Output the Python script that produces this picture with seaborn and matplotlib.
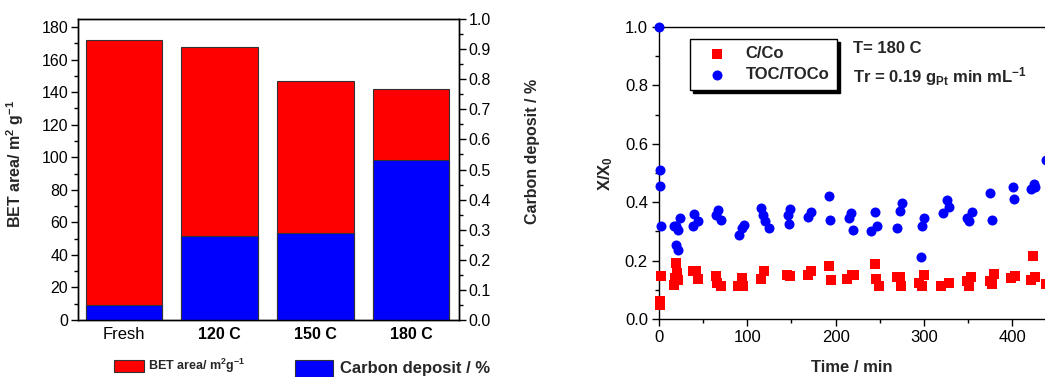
import numpy as np
import pandas as pd
import seaborn as sns
import matplotlib
matplotlib.use("Agg")
import matplotlib.pyplot as plt
from matplotlib.patches import Rectangle
from matplotlib.ticker import MultipleLocator

# ---------------- data ----------------
categories = ["Fresh", "120 C", "150 C", "180 C"]
bet_area = [172, 168, 147, 142]
carbon_deposit = [0.05, 0.28, 0.29, 0.53]

toc_time = [0, 1, 1, 2, 17, 19, 21, 24, 19, 21, 38, 40, 44, 65, 67, 70,
            90.5, 93.5, 96, 116, 118, 120, 125, 146, 147, 148, 169, 172,
            192, 194, 215, 217, 220, 240.5, 244, 247, 269, 273, 275,
            297, 298, 300, 321, 326.5, 328, 349, 351, 354, 374.6, 376.5,
            401, 402, 421, 424, 426, 438]
toc_ratio = [1.0, 0.51, 0.455, 0.32, 0.32, 0.32, 0.305, 0.346, 0.254, 0.235,
             0.32, 0.36, 0.337, 0.356, 0.374, 0.34,
             0.288, 0.311, 0.322, 0.379, 0.356, 0.334, 0.311, 0.356, 0.326, 0.376,
             0.351, 0.368, 0.421, 0.339, 0.345, 0.364, 0.305, 0.303, 0.368, 0.317,
             0.313, 0.371, 0.396, 0.214, 0.319, 0.345, 0.362, 0.408, 0.383,
             0.345, 0.334, 0.368, 0.43, 0.339, 0.451, 0.412, 0.444, 0.462, 0.453,
             0.544]

c_time = [1, 1, 2, 17, 19, 20, 21.6, 18, 39, 42.4, 44, 64, 66, 70, 90, 93.5, 95,
          116, 119, 145, 148.5, 169, 172, 192, 195, 213, 218, 220.5, 244, 246, 249,
          269, 273, 274, 294, 300, 298, 319, 328, 349, 353, 351, 375, 379, 376.5,
          399, 403, 423, 421, 426, 438]
c_ratio = [0.049, 0.06, 0.146, 0.117, 0.191, 0.157, 0.134, 0.14, 0.163, 0.163, 0.137,
           0.146, 0.125, 0.114, 0.114, 0.14, 0.114, 0.137, 0.163, 0.151, 0.146,
           0.151, 0.163, 0.18, 0.134, 0.137, 0.151, 0.151, 0.189, 0.137, 0.114,
           0.144, 0.144, 0.114, 0.125, 0.151, 0.114, 0.114, 0.123, 0.129, 0.144,
           0.112, 0.129, 0.155, 0.121, 0.14, 0.146, 0.216, 0.134, 0.144, 0.121]

# ---------------- style ----------------
sns.set_style("ticks")
plt.rcParams["font.family"] = ["Liberation Sans", "DejaVu Sans"]
plt.rcParams["mathtext.fontset"] = "custom"
plt.rcParams["mathtext.rm"] = "Liberation Sans:bold"
plt.rcParams["mathtext.it"] = "Liberation Sans:bold"
plt.rcParams["mathtext.bf"] = "Liberation Sans:bold"
plt.rcParams["axes.linewidth"] = 1.0
plt.rcParams["xtick.color"] = "black"
plt.rcParams["ytick.color"] = "black"
plt.rcParams["axes.edgecolor"] = "black"

W, H = 1045, 377
fig = plt.figure(figsize=(W / 100, H / 100), dpi=100)

# ---------------- left chart ----------------
axL = fig.add_axes([78 / W, 1 - 320 / H, (459 - 78) / W, (320 - 19) / H])
df_bar = pd.DataFrame({"cat": categories, "bet": bet_area, "carbon": carbon_deposit})
sns.barplot(data=df_bar, x="cat", y="bet", color="#ff0000", saturation=1,
            width=0.8, edgecolor="#333333", linewidth=0.8, ax=axL)
axR = axL.twinx()
sns.barplot(data=df_bar, x="cat", y="carbon", color="#0000ff", saturation=1,
            width=0.8, edgecolor="#333333", linewidth=0.8, ax=axR)
axL.set_xlim(-0.48, 3.5)
axL.set_ylim(0, 185)
axR.set_ylim(0, 1.0)
axL.yaxis.set_major_locator(MultipleLocator(20))
axL.yaxis.set_minor_locator(MultipleLocator(10))
axR.yaxis.set_major_locator(MultipleLocator(0.1))
axR.yaxis.set_minor_locator(MultipleLocator(0.05))
axR.yaxis.set_major_formatter(matplotlib.ticker.FormatStrFormatter("%.1f"))
axL.tick_params(axis="y", which="major", length=5, width=1, labelsize=11.5, pad=2)
axL.tick_params(axis="y", which="minor", length=3, width=1)
axR.tick_params(axis="y", which="major", length=5, width=1, labelsize=11.5, pad=2)
axR.tick_params(axis="y", which="minor", length=3, width=1)
axL.tick_params(axis="x", length=0, pad=5)
axL.set_xlabel("")
axR.set_xlabel("")
axL.set_xticks(range(len(categories)))
axL.set_xticklabels(categories, fontsize=11.5)
for i, lab in enumerate(axL.get_xticklabels()):
    lab.set_fontweight("normal" if i == 0 else "bold")
    lab.set_fontsize(12 if i == 0 else 11.5)
axL.set_ylabel(r"BET area/ m$^2$ g$^{-1}$", fontsize=11.5, fontweight="bold")
axL.yaxis.set_label_coords(-0.137, 0.52)
axR.set_ylabel("Carbon deposit / %", fontsize=11.5, fontweight="bold")
axR.yaxis.set_label_coords(1.172, 0.56)
for sp in axL.spines.values():
    sp.set_visible(True)
for sp in axR.spines.values():
    sp.set_visible(True)

# legend under left chart
fig.patches.append(Rectangle((114 / W, 1 - 372 / H), 30 / W, 12 / H,
                             transform=fig.transFigure, facecolor="#ff0000",
                             edgecolor="#333333", linewidth=0.8))
fig.text(148 / W, 1 - 366 / H, r"BET area/ m$^2$g$^{-1}$", fontsize=9,
         fontweight="bold", va="center", ha="left")
fig.patches.append(Rectangle((295 / W, 1 - 377 / H), 38 / W, 17 / H,
                             transform=fig.transFigure, facecolor="#0000ff",
                             edgecolor="#333333", linewidth=0.8))
fig.text(340 / W, 1 - 368 / H, "Carbon deposit / %", fontsize=12,
         fontweight="bold", va="center", ha="left")

# ---------------- right chart ----------------
ax2 = fig.add_axes([659 / W, 1 - 319 / H, (W - 659) / W, (319 - 27) / H])
df_c = pd.DataFrame({"t": c_time, "r": c_ratio})
df_t = pd.DataFrame({"t": toc_time, "r": toc_ratio})
sns.scatterplot(data=df_c, x="t", y="r", marker="s", color="#ff0000", s=42,
                linewidth=0, ax=ax2, label="C/Co", clip_on=False, zorder=3)
sns.scatterplot(data=df_t, x="t", y="r", marker="o", color="#0000ff", s=52,
                linewidth=0, ax=ax2, label="TOC/TOCo", clip_on=False, zorder=3)
ax2.set_xlim(0, 437)
ax2.set_ylim(0, 1.0)
ax2.xaxis.set_major_locator(MultipleLocator(100))
ax2.xaxis.set_minor_locator(MultipleLocator(50))
ax2.yaxis.set_major_locator(MultipleLocator(0.2))
ax2.yaxis.set_minor_locator(MultipleLocator(0.1))
ax2.yaxis.set_major_formatter(matplotlib.ticker.FormatStrFormatter("%.1f"))
ax2.tick_params(which="major", length=5, width=1, labelsize=12, pad=3)
ax2.tick_params(which="minor", length=3, width=1)
ax2.spines["right"].set_visible(False)
ax2.spines["top"].set_visible(True)
ax2.set_xlabel("Time / min", fontsize=12, fontweight="bold", labelpad=11)
ax2.set_ylabel(r"X/X$_0$", fontsize=12, fontweight="bold")
ax2.yaxis.set_label_coords(-0.115, 0.5)

leg = ax2.legend(loc="upper left", bbox_to_anchor=(0.08, 0.959), borderaxespad=0,
                 frameon=True, fancybox=False, edgecolor="black",
                 shadow={"color": "black", "alpha": 1},
                 prop={"weight": "bold", "size": 12}, labelspacing=0.35,
                 handletextpad=0.6, borderpad=0.45, markerscale=1.0,
                 handlelength=2.3)
leg.get_frame().set_linewidth(1.0)
leg.get_frame().set_alpha(1)

ax2.text(0.503, 0.928, "T= 180 C", transform=ax2.transAxes, fontsize=12,
         fontweight="bold", va="center", ha="left")
ax2.text(0.503, 0.83, r"Tr = 0.19 g$_{Pt}$ min mL$^{-1}$", transform=ax2.transAxes,
         fontsize=12, fontweight="bold", va="center", ha="left")

fig.savefig("out.png", dpi=100)
